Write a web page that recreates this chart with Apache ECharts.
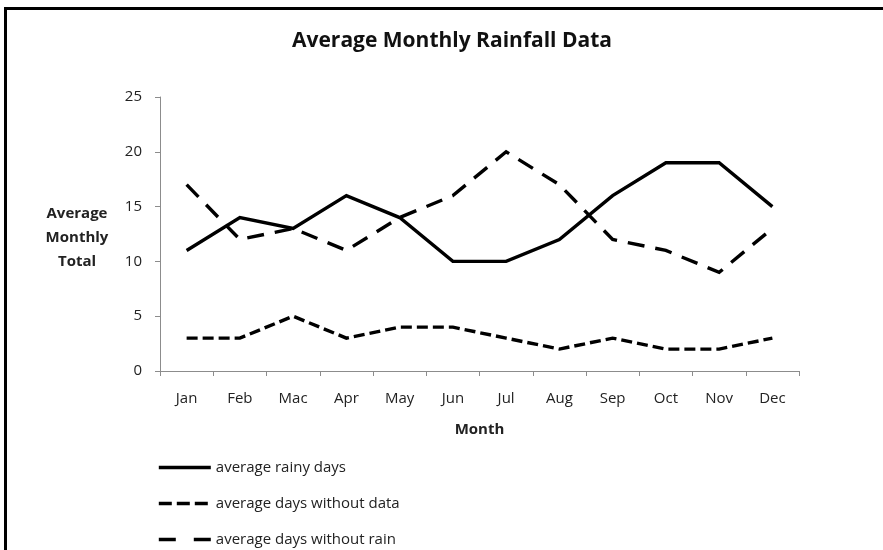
<!DOCTYPE html>
<html>
<head>
<meta charset="utf-8">
<script src="https://cdn.jsdelivr.net/npm/echarts@6/dist/echarts.min.js"></script>
<style>
  html, body { margin: 0; padding: 0; background: #fff; }
  #chart { width: 883px; height: 550px; }
</style>
</head>
<body>
<div id="chart"></div>
<script>
// Monthly rainfall figures
const months = ['Jan', 'Feb', 'Mac', 'Apr', 'May', 'Jun', 'Jul', 'Aug', 'Sep', 'Oct', 'Nov', 'Dec'];
const rainyDays = [11, 14, 13, 16, 14, 10, 10, 12, 16, 19, 19, 15];
const daysWithoutData = [3, 3, 5, 3, 4, 4, 3, 2, 3, 2, 2, 3];
const daysWithoutRain = [17, 12, 13, 11, 14, 16, 20, 17, 12, 11, 9, 13];

const FONT = '"Open Sans", "Noto Sans", sans-serif';

const chart = echarts.init(document.getElementById('chart'));

function lineSeries(name, data, dash) {
  return {
    name: name,
    type: 'line',
    data: data,
    symbol: 'none',
    showSymbol: false,
    silent: true,
    lineStyle: { color: '#000', width: 3.4, type: dash, cap: 'butt', join: 'miter' },
    itemStyle: { color: '#000' }
  };
}

chart.setOption({
  animation: false,
  backgroundColor: '#fff',
  title: {
    text: 'Average Monthly Rainfall Data',
    left: 287,
    top: 26,
    textStyle: { fontFamily: FONT, fontSize: 21, fontWeight: 'bold', color: '#111' }
  },
  graphic: [
    // frame around the chart (top and left edges)
    { type: 'line', shape: { x1: 4, y1: 8.5, x2: 883, y2: 8.5 }, style: { stroke: '#000', lineWidth: 3 } },
    { type: 'line', shape: { x1: 5.5, y1: 7, x2: 5.5, y2: 550 }, style: { stroke: '#000', lineWidth: 3 } }
  ],
  legend: {
    orient: 'vertical',
    left: 152,
    top: 455,
    height: 200,
    itemWidth: 52,
    itemHeight: 14,
    itemGap: 21,
    itemStyle: { opacity: 0 },
    lineStyle: { width: 3.6, color: '#000' },
    textStyle: { fontFamily: FONT, fontSize: 15, color: '#222' },
    data: [
      { name: 'average rainy days' },
      { name: 'average days without data', lineStyle: { type: [13, 5] } },
      { name: 'average days without rain', lineStyle: { type: [17, 18] } }
    ]
  },
  grid: { left: 160, right: 84, top: 97, bottom: 179, containLabel: false },
  xAxis: {
    type: 'category',
    data: months,
    boundaryGap: true,
    name: 'Month',
    nameLocation: 'middle',
    nameGap: 51,
    nameTextStyle: { fontFamily: FONT, fontSize: 15, fontWeight: 'bold', color: '#222' },
    axisLine: { lineStyle: { color: '#8c8c8c', width: 1 } },
    axisTick: { show: true, length: 5, alignWithLabel: false, lineStyle: { color: '#8c8c8c' } },
    axisLabel: { fontFamily: FONT, fontSize: 15, color: '#222', margin: 20 }
  },
  yAxis: {
    type: 'value',
    min: 0,
    max: 25,
    interval: 5,
    // a short spacer line first nudges the three-line title slightly below centre
    name: '{s| }\n{t|Average}\n{t|Monthly}\n{t|Total}',
    nameLocation: 'middle',
    nameRotate: 0,
    nameGap: 83,
    nameTextStyle: {
      fontFamily: FONT, fontSize: 15, fontWeight: 'bold', color: '#222', align: 'center',
      rich: {
        s: { fontSize: 1, lineHeight: 8 },
        t: { fontFamily: FONT, fontSize: 15, fontWeight: 'bold', color: '#222', lineHeight: 24 }
      }
    },
    axisLine: { show: true, lineStyle: { color: '#8c8c8c', width: 1 } },
    axisTick: { show: true, length: 5, lineStyle: { color: '#8c8c8c' } },
    splitLine: { show: false },
    axisLabel: { fontFamily: FONT, fontSize: 15, color: '#222', margin: 18 }
  },
  series: [
    lineSeries('average rainy days', rainyDays, 'solid'),
    lineSeries('average days without data', daysWithoutData, [11, 5]),
    lineSeries('average days without rain', daysWithoutRain, [17, 11])
  ]
});
</script>
</body>
</html>
